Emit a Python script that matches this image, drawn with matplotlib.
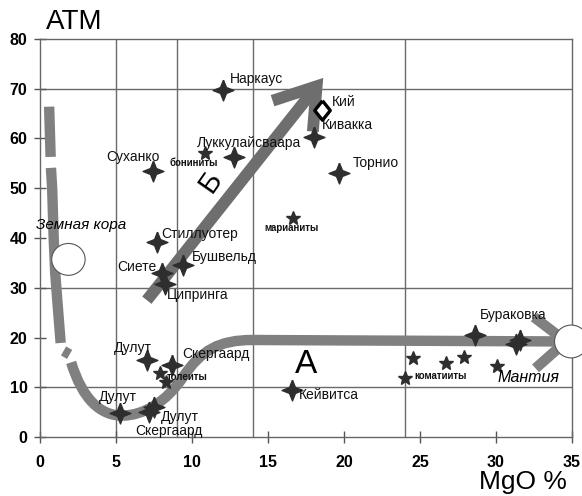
import numpy as np
import matplotlib
matplotlib.use('Agg')
import matplotlib.pyplot as plt
from matplotlib.patches import Ellipse, PathPatch
from matplotlib.path import Path

plt.rcParams['font.family'] = ['Liberation Sans', 'DejaVu Sans']

# deposits (four-pointed stars)
dep_names = ['Наркаус', 'Суханко', 'Луккулайсваара', 'Кивакка', 'Торнио',
             'Стиллуотер', 'Сиете', 'Ципринга', 'Бушвельд',
             'Дулут', 'Скергаард', 'Дулут', 'Дулут', 'Скергаард',
             'Кейвитса', 'Бураковка', '', '']
dep_mgo = [12.07, 7.45, 12.75, 18.0, 19.67, 7.7, 8.02, 8.2, 9.43,
           7.03, 8.7, 5.27, 7.5, 7.15, 16.6, 28.6, 31.3, 31.6]
dep_atm = [69.7, 53.4, 56.2, 60.3, 53.0, 39.1, 32.9, 30.7, 34.6,
           15.5, 14.4, 4.8, 6.0, 5.0, 9.5, 20.6, 18.7, 19.5]

# Кий (open diamond)
kii_mgo = [18.55]
kii_atm = [65.7]

# rock types (small stars)
rock_mgo = [10.88, 16.66, 7.87, 8.3, 24.57, 26.74, 27.9, 30.06, 24.0]
rock_atm = [57.0, 44.1, 12.9, 11.1, 15.8, 14.9, 16.1, 14.3, 11.8]

# text anchors for labels
dep_label_pos = [(12.5, 72.0, 'left'), (7.9, 56.2, 'right'), (10.35, 59.0, 'left'),
                 (18.55, 62.7, 'left'), (20.6, 55.1, 'left'),
                 (8.0, 40.9, 'left'), (7.65, 34.2, 'right'), (8.35, 28.5, 'left'),
                 (10.0, 36.1, 'left'),
                 (7.35, 17.8, 'right'), (9.34, 16.7, 'left'), (6.4, 8.1, 'right'),
                 (7.98, 4.1, 'left'), (6.26, 1.2, 'left'),
                 (17.03, 8.4, 'left'), (28.94, 24.5, 'left'), (0, 0, 'left'), (0, 0, 'left')]
rock_labels = [('бониниты', 8.52, 55.1), ('марианиты', 14.79, 42.1),
               ('толеиты', 8.35, 12.1), ('коматииты', 24.61, 12.3)]

# schematic trend A: dashed start (pieces) and smooth bend (bezier vertices)
trend_a_dashes = [([0.6, 0.7], [66.4, 56.3]),
                  ([0.72, 0.8, 0.9, 1.0, 1.15, 1.36], [54.1, 50.0, 40.0, 33.0, 27.0, 18.9]),
                  ([1.55, 1.95], [17.3, 16.6])]
trend_a_bend = [(2.05, 15.0), (2.8, 7.5), (4.0, 4.3), (5.4, 4.3),
                (6.8, 4.3), (8.3, 7.0), (9.4, 12.0),
                (10.6, 17.5), (11.8, 19.5), (14.0, 19.5),
                (34.6, 19.2)]
trend_b_x = [7.03, 18.2]
trend_b_y = [27.5, 70.5]

grid_x = [5, 9, 14, 24]
grid_y = [10, 30, 70]

fig = plt.figure(figsize=(5.82, 4.96), dpi=100)
ax = fig.add_axes([40 / 582, 59 / 496, 532 / 582, 398 / 496])
ax.set_xlim(0, 35)
ax.set_ylim(0, 80)

for gx in grid_x:
    ax.axvline(gx, color='#6a6a6a', lw=1.0, zorder=1)
for gy in grid_y:
    ax.axhline(gy, color='#6a6a6a', lw=1.0, zorder=1)

curve_col = '#808080'
lw_c = 7.5
for dx, dy in trend_a_dashes:
    ax.plot(dx, dy, color=curve_col, lw=lw_c, solid_capstyle='butt', zorder=2)
codes = [Path.MOVETO] + [Path.CURVE4] * 9 + [Path.LINETO]
bend = PathPatch(Path(trend_a_bend, codes), facecolor='none', edgecolor=curve_col,
                 lw=lw_c, capstyle='butt', joinstyle='round', zorder=2)
ax.add_patch(bend)
# chevron at the mantle end
ax.plot([32.5, 34.6, 32.6], [24.1, 19.2, 13.8], color=curve_col, lw=lw_c,
        solid_capstyle='butt', solid_joinstyle='miter', zorder=2)

# trend B arrow
b_col = '#6e6e6e'
ax.plot(trend_b_x, trend_b_y, color=b_col, lw=8.5, solid_capstyle='butt', zorder=2)
ax.plot([15.3, 18.2, 17.95], [67.6, 70.5, 61.4], color=b_col, lw=8.5,
        solid_capstyle='butt', solid_joinstyle='miter', zorder=2)

# circles: crust and mantle
ax.add_patch(Ellipse((1.87, 35.7), 2.2, 6.4, facecolor='white', edgecolor='#555555',
                     lw=0.8, zorder=3))
ax.add_patch(Ellipse((34.95, 19.2), 2.2, 6.6, facecolor='white', edgecolor='#555555',
                     lw=0.8, zorder=3, clip_on=False))

# markers
star4 = []
for k in range(8):
    ang = np.pi / 2 + k * np.pi / 4
    r = 1.0 if k % 2 == 0 else 0.4
    star4.append((r * np.cos(ang), r * np.sin(ang)))
star4.append(star4[0])
ax.plot(dep_mgo, dep_atm, linestyle='none', marker=star4, ms=15, color='#2e2e2e',
        mec='#2e2e2e', zorder=5)
ax.plot(rock_mgo, rock_atm, linestyle='none', marker='*', ms=10, color='#2e2e2e', zorder=5)
diamond = [(0, 1), (0.8, 0), (0, -1), (-0.8, 0), (0, 1)]
ax.plot(kii_mgo, kii_atm, linestyle='none', marker=diamond,
        ms=14, mfc='white', mec='black', mew=2.4, zorder=6)

for name, (lx, ly, ha) in zip(dep_names, dep_label_pos):
    if name:
        ax.text(lx, ly, name, ha=ha, va='center', fontsize=10, color='#111111', zorder=7)
ax.text(19.2, 67.4, 'Кий', ha='left', va='center', fontsize=10, color='#111111', zorder=7)
for name, lx, ly in rock_labels:
    ax.text(lx, ly, name, ha='left', va='center', fontsize=7, fontweight='bold',
            color='#111111', zorder=7)

ax.text(-0.25, 42.6, 'Земная кора', ha='left', va='center', fontsize=11,
        style='italic', zorder=7, clip_on=False)
ax.text(30.1, 11.9, 'Мантия', ha='left', va='center', fontsize=11.5,
        style='italic', zorder=7)
ax.text(17.5, 14.6, 'A', ha='center', va='center', fontsize=24, zorder=7)
ax.text(11.2, 51.3, 'Б', ha='center', va='center', fontsize=21, rotation=55, zorder=7)

ax.set_xticks(range(0, 36, 5))
ax.set_yticks(range(0, 81, 10))
ax.tick_params(axis='both', direction='inout', length=8, width=1, color='#555555',
               labelsize=11.5)
ax.tick_params(axis='x', pad=9)
ax.tick_params(axis='y', pad=5)
for lab in ax.get_xticklabels() + ax.get_yticklabels():
    lab.set_fontweight('bold')
for side in ['left', 'bottom', 'top', 'right']:
    ax.spines[side].set_color('#666666')
    ax.spines[side].set_linewidth(1.0)

fig.text(46 / 582, 1 - 22 / 496, 'ATM', ha='left', va='center', fontsize=20)
fig.text(567 / 582, 1 - 482 / 496, 'MgO %', ha='right', va='center', fontsize=19)

fig.savefig('out.png', dpi=100)
